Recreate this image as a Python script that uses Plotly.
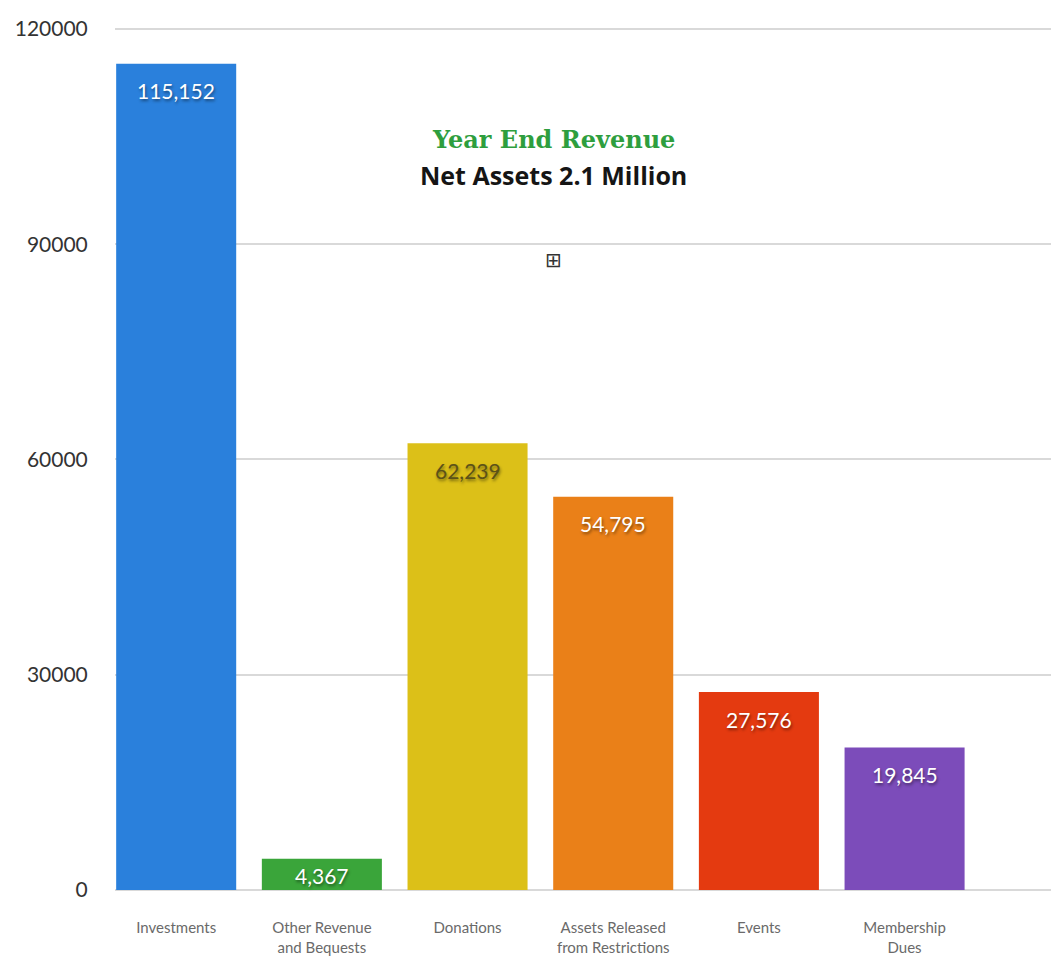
import plotly.graph_objects as go

categories = ["Investments", "Other Revenue<br>and Bequests", "Donations",
              "Assets Released<br>from Restrictions", "Events", "Membership<br>Dues"]
values = [115152, 4367, 62239, 54795, 27576, 19845]
value_labels = ["115,152", "4,367", "62,239", "54,795", "27,576", "19,845"]
bar_colors = ["#2a80dc", "#3aa53a", "#dcc018", "#ea8018", "#e43a10", "#7c4cba"]
label_colors = ["#ffffff", "#ffffff", "#5c5218", "#ffffff", "#ffffff", "#ffffff"]
y_ticks = [0, 30000, 60000, 90000, 120000]

Y_MAX = 120400
BODY = 8  # default page margin of the html body
W, H = 1059 - BODY, 956 - BODY
M_L, M_T = 115 - BODY, 26 - BODY  # plot: x 115..1059, y 26..890
M_B = (BODY + H) - 890
PLOT_H = H - M_T - M_B
PLOT_W = W - M_L


def px_to_paper_y(py):
    return 1 - (py - BODY - M_T) / PLOT_H


def px_to_paper_x(px):
    return (px - BODY - M_L) / PLOT_W


fig = go.Figure()
fig.add_trace(go.Bar(
    x=categories, y=values,
    marker=dict(color=bar_colors, line=dict(width=0)),
    hoverinfo="x+y",
))

for c, v, t, col in zip(categories, values, value_labels, label_colors):
    px_h = v / Y_MAX * PLOT_H
    shift = -min(27, px_h * 0.55)
    fig.add_annotation(
        x=c, y=v, text=t, showarrow=False, yanchor="middle", yshift=shift,
        font=dict(family="Lato, sans-serif", size=21, color=col,
                  shadow="1px 2px 3px rgba(0,0,0,0.45)"),
    )

cx = px_to_paper_x(553)
fig.add_annotation(
    xref="paper", yref="paper", x=cx, y=px_to_paper_y(140), yanchor="middle",
    text="<b>Year End Revenue</b>", showarrow=False,
    font=dict(family="DejaVu Serif, serif", size=24, color="#2e9e3e"),
)
fig.add_annotation(
    xref="paper", yref="paper", x=cx, y=px_to_paper_y(175), yanchor="middle",
    text="<b>Net Assets 2.1 Million</b>", showarrow=False,
    font=dict(family="Open Sans, sans-serif", size=25, color="#151515"),
)
fig.add_annotation(
    xref="paper", yref="paper", x=cx, y=px_to_paper_y(260), yanchor="middle",
    text="⊞", showarrow=False,
    font=dict(family="DejaVu Sans, sans-serif", size=20, color="#333333"),
)

fig.update_layout(
    width=W, height=H,
    margin=dict(l=M_L, r=0, t=M_T, b=M_B),
    paper_bgcolor="white", plot_bgcolor="white",
    bargap=0.176, showlegend=False,
)
fig.update_xaxes(
    type="category", range=[-0.42, 6.06], showgrid=False, showline=False,
    ticks="outside", ticklen=24, tickcolor="rgba(0,0,0,0)",
    tickfont=dict(family="Lato, sans-serif", size=15, color="#6a6a6a"),
)
fig.update_yaxes(
    range=[0, Y_MAX], tickvals=y_ticks, ticktext=[str(v) for v in y_ticks],
    showgrid=True, gridcolor="#d9d9d9", gridwidth=2,
    zeroline=True, zerolinecolor="#d9d9d9", zerolinewidth=2,
    showline=False, ticks="outside", ticklen=22, tickcolor="rgba(0,0,0,0)",
    tickfont=dict(family="Lato, sans-serif", size=21, color="#333333"),
)

fig.write_html("out.html")
